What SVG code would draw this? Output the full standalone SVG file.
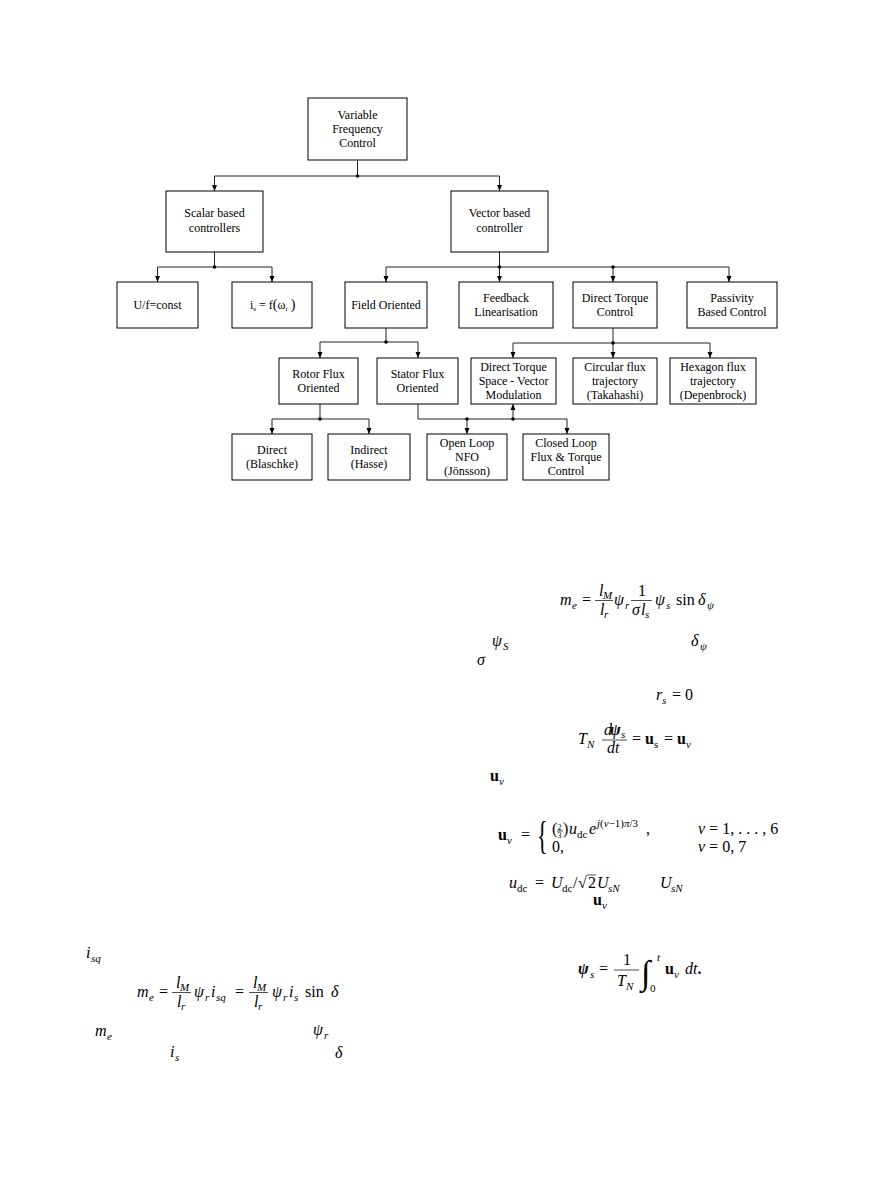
<svg xmlns="http://www.w3.org/2000/svg" width="891" height="1188" viewBox="0 0 891 1188">
<defs>
<marker id="arr" markerWidth="6" markerHeight="6" refX="6" refY="3" orient="auto" markerUnits="userSpaceOnUse"><path d="M0,0.5 L6,3 L0,5.5 z" fill="#000"/></marker>
<style>
.box{fill:#fff;stroke:#000;stroke-width:1}
.c{fill:none;stroke:#222;stroke-width:1}
.a{fill:none;stroke:#222;stroke-width:1;marker-end:url(#arr)}
.dot{fill:#000}
.t{font-family:"Liberation Serif","Times New Roman",serif;font-size:12px;text-anchor:middle;fill:#000}
.mi{font-family:"Liberation Serif",serif;font-style:italic;font-size:16px;fill:#000}
.mn{font-family:"Liberation Serif",serif;font-size:16px;fill:#000}
.mb{font-family:"Liberation Serif",serif;font-weight:bold;font-size:16px;fill:#000}
.mbi{font-family:"Liberation Serif",serif;font-weight:bold;font-style:italic;font-size:16px;fill:#000}
.sb{font-family:"Liberation Serif",serif;font-style:italic;font-size:11px;fill:#000}
.su{font-family:"Liberation Serif",serif;font-size:11px;fill:#000}
.fb{stroke:#000;stroke-width:0.7}
</style>
</defs>
<rect width="891" height="1188" fill="#fff"/>

<g id="connectors">
<line class="c" x1="357.5" y1="160" x2="357.5" y2="176"/>
<line class="c" x1="214.5" y1="176" x2="499.5" y2="176"/>
<line class="a" x1="214.5" y1="176" x2="214.5" y2="191"/>
<line class="a" x1="499.5" y1="176" x2="499.5" y2="191"/>
<circle class="dot" cx="357.5" cy="176" r="1.8"/>

<line class="c" x1="214.5" y1="252" x2="214.5" y2="267"/>
<line class="c" x1="157.5" y1="267" x2="272" y2="267"/>
<line class="a" x1="157.5" y1="267" x2="157.5" y2="282"/>
<line class="a" x1="272" y1="267" x2="272" y2="282"/>
<circle class="dot" cx="214.5" cy="267" r="1.8"/>

<line class="c" x1="499.5" y1="252" x2="499.5" y2="267"/>
<line class="c" x1="386" y1="267" x2="729" y2="267"/>
<line class="a" x1="386" y1="267" x2="386" y2="282"/>
<line class="a" x1="499.5" y1="267" x2="499.5" y2="282"/>
<line class="a" x1="613" y1="267" x2="613" y2="282"/>
<line class="a" x1="729" y1="267" x2="729" y2="282"/>
<circle class="dot" cx="499.5" cy="267" r="1.8"/>
<circle class="dot" cx="613" cy="267" r="1.8"/>

<line class="c" x1="386" y1="328" x2="386" y2="342"/>
<line class="c" x1="320" y1="342" x2="418" y2="342"/>
<line class="a" x1="320" y1="342" x2="320" y2="358"/>
<line class="a" x1="418" y1="342" x2="418" y2="358"/>
<circle class="dot" cx="386" cy="342" r="1.8"/>

<line class="c" x1="613" y1="328" x2="613" y2="343"/>
<line class="c" x1="513" y1="343" x2="710" y2="343"/>
<line class="a" x1="513" y1="343" x2="513" y2="358"/>
<line class="a" x1="613" y1="343" x2="613" y2="358"/>
<line class="a" x1="710" y1="343" x2="710" y2="358"/>
<circle class="dot" cx="613" cy="343" r="1.8"/>

<line class="c" x1="320" y1="404" x2="320" y2="419"/>
<line class="c" x1="272" y1="419" x2="369" y2="419"/>
<line class="a" x1="272" y1="419" x2="272" y2="434"/>
<line class="a" x1="369" y1="419" x2="369" y2="434"/>
<circle class="dot" cx="320" cy="419" r="1.8"/>

<path class="c" d="M418,404 V419 H567"/>
<line class="a" x1="467" y1="419" x2="467" y2="434"/>
<line class="a" x1="567" y1="419" x2="567" y2="434"/>
<line class="a" x1="513" y1="419" x2="513" y2="404"/>
<circle class="dot" cx="467" cy="419" r="1.8"/>
<circle class="dot" cx="513" cy="419" r="1.8"/>
</g>

<g id="vfc"><rect class="box" x="308" y="98" width="99" height="62"/>
<text class="t" x="357.5" y="119">Variable</text><text class="t" x="357.5" y="133">Frequency</text><text class="t" x="357.5" y="147">Control</text></g>

<g id="scalar"><rect class="box" x="166" y="191" width="97" height="61"/>
<text class="t" x="214.5" y="217">Scalar based</text><text class="t" x="214.5" y="232">controllers</text></g>

<g id="vector"><rect class="box" x="451" y="191" width="97" height="61"/>
<text class="t" x="499.5" y="217">Vector based</text><text class="t" x="499.5" y="232">controller</text></g>

<g id="uf"><rect class="box" x="117" y="282" width="81" height="46"/>
<text class="t" x="157.5" y="309">U/f=const</text></g>

<g id="is"><rect class="box" x="232" y="282" width="80" height="46"/>
<text class="t" x="250" y="309" style="text-anchor:start">i<tspan style="font-size:7px" dy="2">s</tspan><tspan dy="-2"> = f</tspan><tspan style="font-size:14px">(</tspan>ω<tspan style="font-size:7px" dy="2">r</tspan><tspan dy="-2"> </tspan><tspan style="font-size:14px">)</tspan></text></g>

<g id="field"><rect class="box" x="345" y="282" width="82" height="46"/>
<text class="t" x="386" y="309">Field Oriented</text></g>

<g id="feedback"><rect class="box" x="459" y="282" width="94" height="46"/>
<text class="t" x="506" y="302">Feedback</text><text class="t" x="506" y="316">Linearisation</text></g>

<g id="dtc"><rect class="box" x="573" y="282" width="84" height="46"/>
<text class="t" x="615" y="302">Direct Torque</text><text class="t" x="615" y="316">Control</text></g>

<g id="passivity"><rect class="box" x="687" y="282" width="90" height="46"/>
<text class="t" x="732" y="302">Passivity</text><text class="t" x="732" y="316">Based Control</text></g>

<g id="rotor"><rect class="box" x="279" y="358" width="79" height="46"/>
<text class="t" x="318.5" y="378">Rotor Flux</text><text class="t" x="318.5" y="392">Oriented</text></g>

<g id="stator"><rect class="box" x="377" y="358" width="81" height="46"/>
<text class="t" x="417.5" y="378">Stator Flux</text><text class="t" x="417.5" y="392">Oriented</text></g>

<g id="dtsvm"><rect class="box" x="471" y="358" width="85" height="46"/>
<text class="t" x="513.5" y="371">Direct Torque</text><text class="t" x="513.5" y="385">Space - Vector</text><text class="t" x="513.5" y="399">Modulation</text></g>

<g id="circular"><rect class="box" x="573" y="358" width="84" height="46"/>
<text class="t" x="615" y="371">Circular flux</text><text class="t" x="615" y="385">trajectory</text><text class="t" x="615" y="399">(Takahashi)</text></g>

<g id="hexagon"><rect class="box" x="670" y="358" width="86" height="46"/>
<text class="t" x="713" y="371">Hexagon flux</text><text class="t" x="713" y="385">trajectory</text><text class="t" x="713" y="399">(Depenbrock)</text></g>

<g id="direct"><rect class="box" x="232" y="434" width="80" height="46"/>
<text class="t" x="272" y="454">Direct</text><text class="t" x="272" y="468">(Blaschke)</text></g>

<g id="indirect"><rect class="box" x="328" y="434" width="82" height="46"/>
<text class="t" x="369" y="454">Indirect</text><text class="t" x="369" y="468">(Hasse)</text></g>

<g id="openloop"><rect class="box" x="427" y="434" width="80" height="46"/>
<text class="t" x="467" y="447">Open Loop</text><text class="t" x="467" y="461">NFO</text><text class="t" x="467" y="475">(Jönsson)</text></g>

<g id="closedloop"><rect class="box" x="523" y="434" width="86" height="46"/>
<text class="t" x="566" y="447">Closed Loop</text><text class="t" x="566" y="461">Flux &amp; Torque</text><text class="t" x="566" y="475">Control</text></g>

<!-- Formula A -->
<g id="eqA">
<text class="mi" x="560" y="605">m</text><text class="sb" x="572" y="609">e</text>
<text class="mn" x="582" y="605">=</text>
<text class="mi" x="599" y="596">l</text><text class="sb" x="603" y="599">M</text>
<line class="fb" x1="595" y1="600.5" x2="613" y2="600.5"/>
<text class="mi" x="600" y="615">l</text><text class="sb" x="604" y="618">r</text>
<text class="mi" x="614" y="605">ψ</text><text class="sb" x="625" y="609">r</text>
<text class="mn" x="638" y="596">1</text>
<line class="fb" x1="631" y1="600.5" x2="652" y2="600.5"/>
<text class="mi" x="632" y="615">σ</text><text class="mi" x="641" y="615">l</text><text class="sb" x="645" y="618">s</text>
<text class="mi" x="655" y="605">ψ</text><text class="sb" x="666" y="609">s</text>
<text class="mn" x="676" y="605">sin</text>
<text class="mi" x="698" y="605">δ</text><text class="sb" x="707" y="609">ψ</text>
</g>

<g id="eqB">
<text class="mi" x="492" y="646">ψ</text><text class="sb" x="503" y="650">S</text>
<text class="mi" x="477" y="665">σ</text>
<text class="mi" x="691" y="646">δ</text><text class="sb" x="700" y="650">ψ</text>
<text class="mi" x="656" y="700">r</text><text class="sb" x="662" y="704">s</text><text class="mn" x="672" y="700">= 0</text>
</g>

<g id="eqC">
<text class="mi" x="578" y="744">T</text><text class="sb" x="587" y="748">N</text>
<text class="mi" x="604" y="735">d</text><text class="mbi" x="610" y="735">ψ</text><text class="sb" x="621" y="738">s</text>
<line class="fb" x1="602" y1="740" x2="627" y2="740"/>
<text class="mi" x="607" y="753">dt</text>
<text class="mn" x="632" y="744">=</text>
<text class="mb" x="645" y="744">u</text><text class="su" x="654" y="748">s</text>
<text class="mn" x="664" y="744">=</text>
<text class="mb" x="677" y="744">u</text><text class="sb" x="686" y="748">ν</text>
</g>

<g id="eqD">
<text class="mb" x="490" y="781">u</text><text class="sb" x="499" y="785">ν</text>
</g>

<g id="eqE">
<text class="mb" x="498" y="840">u</text><text class="sb" x="507" y="844">ν</text>
<text class="mn" x="521" y="840">=</text>
<text class="mn" x="0" y="0" style="font-size:40px" transform="translate(537,849) scale(0.55,1)">{</text>
<text class="mn" x="552" y="834">(</text>
<text class="su" x="557.5" y="829.5" style="font-size:8px">2</text>
<line class="fb" x1="557" y1="831" x2="563" y2="831" stroke-width="0.5"/>
<text class="su" x="557.5" y="837.5" style="font-size:8px">3</text>
<text class="mn" x="563" y="834">)</text>
<text class="mi" x="569" y="834">u</text><text class="su" x="577" y="838">dc</text>
<text class="mi" x="589" y="834">e</text>
<text class="sb" x="597" y="827">j<tspan style="font-style:normal">(</tspan>ν<tspan style="font-style:normal">−1)</tspan>π<tspan style="font-style:normal">/3</tspan></text>
<text class="mn" x="646" y="834">,</text>
<text class="mi" x="698" y="834">ν<tspan style="font-style:normal"> = 1, . . . , 6</tspan></text>
<text class="mn" x="552" y="852">0,</text>
<text class="mi" x="698" y="852">ν<tspan style="font-style:normal"> = 0, 7</tspan></text>
</g>

<g id="eqF">
<text class="mi" x="509" y="888">u</text><text class="su" x="517" y="892">dc</text>
<text class="mn" x="535" y="888">=</text>
<text class="mi" x="551" y="888">U</text><text class="su" x="562" y="892">dc</text>
<text class="mn" x="573" y="888">/</text>
<text class="mn" x="578" y="888">√</text>
<line class="fb" x1="587" y1="875" x2="596" y2="875"/>
<text class="mn" x="588" y="888">2</text>
<text class="mi" x="597" y="888">U</text><text class="sb" x="608" y="892">sN</text>
<text class="mi" x="660" y="888">U</text><text class="sb" x="671" y="892">sN</text>
<text class="mb" x="593" y="905">u</text><text class="sb" x="602" y="909">ν</text>
</g>

<g id="eqG">
<text class="mbi" x="578" y="974">ψ</text><text class="sb" x="590" y="978">s</text>
<text class="mn" x="599" y="974">=</text>
<text class="mn" x="623" y="965">1</text>
<line class="fb" x1="614" y1="970" x2="639" y2="970"/>
<text class="mi" x="617" y="986">T</text><text class="sb" x="626" y="990">N</text>
<text class="mn" x="641" y="984" style="font-size:34px">∫</text>
<text class="sb" x="657" y="961">t</text>
<text class="su" x="650" y="992">0</text>
<text class="mb" x="665" y="974">u</text><text class="sb" x="674" y="978">ν</text>
<text class="mi" x="685" y="974">dt<tspan style="font-style:normal;font-weight:bold">.</tspan></text>
</g>

<g id="eqH">
<text class="mi" x="86" y="958">i</text><text class="sb" x="91" y="962">sq</text>
<text class="mi" x="137" y="997">m</text><text class="sb" x="149" y="1001">e</text>
<text class="mn" x="159" y="997">=</text>
<text class="mi" x="176" y="988">l</text><text class="sb" x="180" y="991">M</text>
<line class="fb" x1="172" y1="992.5" x2="191" y2="992.5"/>
<text class="mi" x="177" y="1007">l</text><text class="sb" x="181" y="1010">r</text>
<text class="mi" x="194" y="997">ψ</text><text class="sb" x="205" y="1001">r</text>
<text class="mi" x="211" y="997">i</text><text class="sb" x="216" y="1001">sq</text>
<text class="mn" x="235" y="997">=</text>
<text class="mi" x="253" y="988">l</text><text class="sb" x="257" y="991">M</text>
<line class="fb" x1="249" y1="992.5" x2="268" y2="992.5"/>
<text class="mi" x="254" y="1007">l</text><text class="sb" x="258" y="1010">r</text>
<text class="mi" x="272" y="997">ψ</text><text class="sb" x="283" y="1001">r</text>
<text class="mi" x="289" y="997">i</text><text class="sb" x="294" y="1001">s</text>
<text class="mn" x="305" y="997">sin</text>
<text class="mi" x="331" y="997">δ</text>
<text class="mi" x="95" y="1036">m</text><text class="sb" x="107" y="1040">e</text>
<text class="mi" x="313" y="1035">ψ</text><text class="sb" x="324" y="1039">r</text>
<text class="mi" x="170" y="1057">i</text><text class="sb" x="175" y="1061">s</text>
<text class="mi" x="335" y="1058">δ</text>
</g>
</svg>
